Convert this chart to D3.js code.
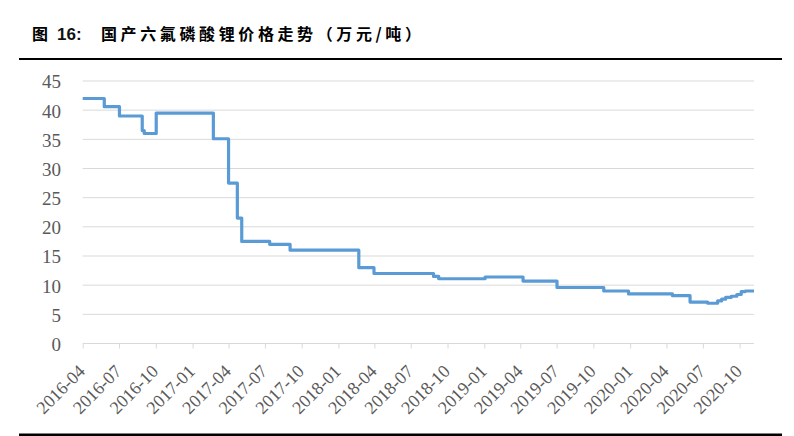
<!DOCTYPE html>
<html>
<head>
<meta charset="utf-8">
<script src="https://cdn.jsdelivr.net/npm/d3@7"></script>
<style>
  body { margin: 0; background: #fff; }
  #chart svg { display: block; }
</style>
</head>
<body>
<div id="chart"></div>
<script>
// price of domestic LiPF6, wan yuan / ton
var dates = [
  '2016-04-01', '2016-05-25', '2016-07-02', '2016-08-28', '2016-09-02',
  '2016-10-02', '2017-02-22', '2017-04-01', '2017-04-23', '2017-05-04',
  '2017-07-13', '2017-09-02', '2018-02-21', '2018-03-31', '2018-08-27',
  '2018-09-09', '2019-01-03', '2019-04-08', '2019-07-02', '2019-10-27',
  '2019-12-28', '2020-04-16', '2020-05-30', '2020-07-13', '2020-08-07',
  '2020-08-17', '2020-08-27', '2020-09-10', '2020-09-24', '2020-10-05',
  '2020-10-15', '2020-11-06'
];
var prices = [
  42, 40.6, 39, 36.5, 36,
  39.5, 35.1, 27.5, 21.5, 17.5,
  17, 16, 13, 12, 11.5,
  11.1, 11.4, 10.7, 9.6, 9,
  8.5, 8.2, 7.1, 6.9, 7.3,
  7.6, 7.9, 8.1, 8.4, 8.9,
  9, 9
];
var yTicks = [0, 5, 10, 15, 20, 25, 30, 35, 40, 45];
var xTicks = [
  '2016-04', '2016-07', '2016-10', '2017-01', '2017-04', '2017-07',
  '2017-10', '2018-01', '2018-04', '2018-07', '2018-10', '2019-01',
  '2019-04', '2019-07', '2019-10', '2020-01', '2020-04', '2020-07', '2020-10'
];
var title = '国产六氟磷酸锂价格走势（万元/吨）';

var parse = d3.timeParse('%Y-%m-%d');
var parseMonth = d3.timeParse('%Y-%m');

var data = dates.map(function (d, i) {
  return { date: parse(d), value: prices[i] };
});

var svg = d3.select('#chart').append('svg')
  .attr('width', 794)
  .attr('height', 436);

// heading + rules
svg.append('text')
  .attr('x', 32).attr('y', 39.5)
  .attr('font-family', '"Noto Sans CJK SC"')
  .attr('font-weight', 700)
  .attr('font-size', 16)
  .attr('fill', '#000')
  .text('图');
svg.append('text')
  .attr('x', 57).attr('y', 39.5)
  .attr('font-family', '"Liberation Sans", Arial')
  .attr('font-weight', 700)
  .attr('font-size', 17)
  .attr('fill', '#111')
  .text('16:');
svg.append('text')
  .attr('x', 101).attr('y', 39.5)
  .attr('font-family', '"Noto Sans CJK SC"')
  .attr('font-weight', 700)
  .attr('font-size', 16)
  .attr('textLength', 320)
  .attr('lengthAdjust', 'spacing')
  .attr('fill', '#000')
  .text(title);

svg.append('rect').attr('x', 19).attr('y', 58).attr('width', 763).attr('height', 2).attr('fill', '#000');
svg.append('rect').attr('x', 19).attr('y', 433.5).attr('width', 763).attr('height', 2.5).attr('fill', '#000');

// scales
var x = d3.scaleTime()
  .domain([parse('2016-04-01'), parse('2020-11-06')])
  .range([82.7, 754]);
var y = d3.scaleLinear()
  .domain([0, 45])
  .range([343.5, 81]);

// gridlines
svg.append('g')
  .selectAll('line').data(yTicks.slice(1))
  .enter().append('line')
  .attr('x1', x.range()[0]).attr('x2', x.range()[1])
  .attr('y1', function (d) { return y(d); })
  .attr('y2', function (d) { return y(d); })
  .attr('stroke', '#d9d9d9')
  .attr('stroke-width', 1);

// y axis labels
var yAxis = d3.axisLeft(y).tickValues(yTicks).tickSize(0).tickPadding(0);
var gy = svg.append('g').attr('transform', 'translate(61,0)').call(yAxis);
gy.select('.domain').remove();
gy.selectAll('text')
  .attr('font-family', '"Liberation Serif", "Times New Roman", serif')
  .attr('font-size', 19)
  .attr('fill', '#595959')
  .attr('dy', '0.36em');

// x axis
var xAxis = d3.axisBottom(x)
  .tickValues(xTicks.map(function (t) { return parseMonth(t); }))
  .tickSize(5)
  .tickFormat(d3.timeFormat('%Y-%m'));
var gx = svg.append('g').attr('transform', 'translate(0,' + y(0) + ')').call(xAxis);
gx.select('.domain')
  .attr('d', 'M' + x.range()[0] + ',0H' + x.range()[1])
  .attr('stroke', '#d9d9d9');
gx.selectAll('.tick line').attr('stroke', '#d9d9d9');
gx.selectAll('text')
  .attr('font-family', '"Liberation Serif", "Times New Roman", serif')
  .attr('font-size', 18)
  .attr('fill', '#595959')
  .attr('text-anchor', 'end')
  .attr('y', 0).attr('dy', 0)
  .attr('transform', 'translate(3,29) rotate(-45)');

// the price line
var line = d3.line()
  .curve(d3.curveStepAfter)
  .x(function (d) { return x(d.date); })
  .y(function (d) { return y(d.value); });

svg.append('path')
  .datum(data)
  .attr('d', line)
  .attr('fill', 'none')
  .attr('stroke', '#5b9bd5')
  .attr('stroke-width', 3.2)
  .attr('stroke-linejoin', 'round');
</script>
</body>
</html>
